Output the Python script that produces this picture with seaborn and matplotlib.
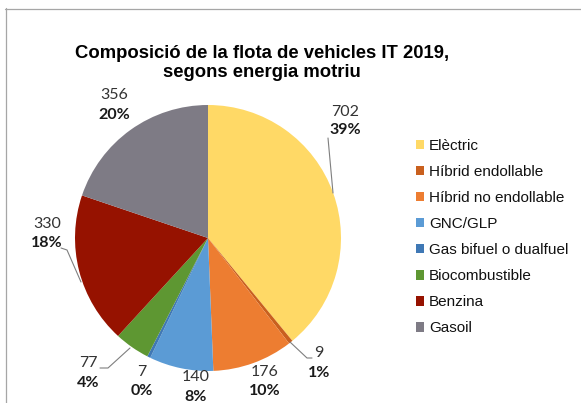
import matplotlib
matplotlib.use("Agg")
import matplotlib.pyplot as plt
from matplotlib.lines import Line2D
import seaborn as sns

# ---- data ----
categories = ["Elèctric", "Híbrid endollable", "Híbrid no endollable", "GNC/GLP",
              "Gas bifuel o dualfuel", "Biocombustible", "Benzina", "Gasoil"]
values = [702, 9, 176, 140, 7, 77, 330, 356]
percent_labels = ["39%", "1%", "10%", "8%", "0%", "4%", "18%", "20%"]
title = "Composició de la flota de vehicles IT 2019,\nsegons energia motriu"

# ---- style ----
colors = ["#FFD966", "#C9601E", "#ED7D31", "#5B9BD5",
          "#3F78B5", "#5E9732", "#961200", "#7E7B85"]
palette = sns.color_palette(colors)

sns.set_theme(style="white")
plt.rcParams["font.family"] = ["Liberation Sans", "DejaVu Sans"]

W, H = 581, 403
fig = plt.figure(figsize=(W / 100, H / 100), dpi=100)
ax = fig.add_axes([0, 0, 1, 1])

cx, cy, r = 208, 238, 133
wedges, _ = ax.pie(values, colors=palette, startangle=90, counterclock=False,
                   center=(cx, H - cy), radius=r, wedgeprops=dict(linewidth=0))
ax.set_xlim(0, W)
ax.set_ylim(0, H)
ax.set_aspect("auto")
ax.axis("off")

# label positions (pixels, from top-left)
label_pos = [(345, 112, 130), (319, 353, 373), (265, 372, 391), (196, 377, 397),
             (142, 372, 391), (88, 363, 383), (47, 224, 243), (114, 95, 115)]
for v, p, (x, y1, y2) in zip(values, percent_labels, label_pos):
    ax.text(x, H - y1, str(v), ha="center", va="center", fontsize=11.5,
            family=["Lato", "DejaVu Sans"], color="#333333")
    ax.text(x, H - y2, p, ha="center", va="center", fontsize=11.5,
            family=["Lato", "DejaVu Sans"], fontweight="bold", color="#1a1a1a")

# leader lines
leaders = [
    [(333, 193), (328, 138)],
    [(290, 342), (307, 358), (312, 358)],
    [(130, 348), (108, 368), (100, 368)],
    [(81, 282), (67, 250), (61, 248)],
]
for pts in leaders:
    xs = [p[0] for p in pts]
    ys = [H - p[1] for p in pts]
    ax.plot(xs, ys, color="#7f7f7f", lw=0.8)

# title
fig.text(262 / W, 1 - 63 / H, title, ha="center", va="center", fontsize=13.3,
         fontweight="bold", linespacing=1.15, color="#000000")

# legend
leg = ax.legend(wedges, categories, loc="upper left",
                bbox_to_anchor=(416 / W, 1 - 139 / H), bbox_transform=fig.transFigure,
                frameon=False, prop={"family": "Liberation Sans", "size": 11},
                handlelength=0.55, handleheight=0.55, handletextpad=0.3,
                labelspacing=0.79, borderpad=0, borderaxespad=0)
for t in leg.get_texts():
    t.set_color("#111111")

# chart frame (left & top visible)
fig.add_artist(Line2D([5.5 / W, 5.5 / W], [0, 1 - 8 / H], transform=fig.transFigure,
                      color="#a6a6a6", lw=0.9))
fig.add_artist(Line2D([5 / W, 1], [1 - 8.5 / H, 1 - 8.5 / H], transform=fig.transFigure,
                      color="#a6a6a6", lw=0.9))

fig.savefig("out.png", dpi=100, facecolor="white")
